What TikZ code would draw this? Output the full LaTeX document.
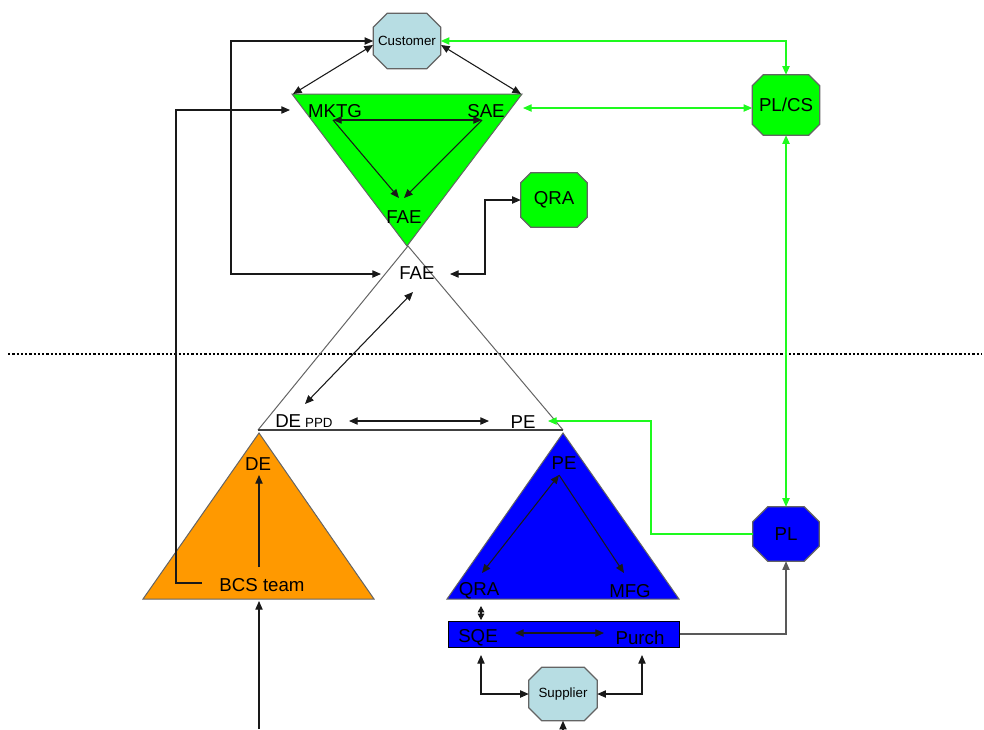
\documentclass[tikz,border=0pt]{standalone}
\usepackage{fontspec}
\setmainfont{Liberation Sans}
\usetikzlibrary{arrows.meta,backgrounds}

\definecolor{custblue}{RGB}{183,221,227}
\definecolor{vgreen}{RGB}{0,255,0}
\definecolor{vblue}{RGB}{0,0,255}
\definecolor{vorange}{RGB}{255,153,0}
\definecolor{rimgray}{RGB}{100,100,100}
\definecolor{linkgreen}{RGB}{30,250,30}

% octagon outline around node #1, filled with #2, corners cut by #3
\newcommand\octoutline[3]{%
  \begin{scope}[on background layer]
    \filldraw[fill=#2, draw=rimgray, line width=0.9pt]
      ([xshift=#3]#1.north west) -- ([xshift=-#3]#1.north east)
      -- ([yshift=-#3]#1.north east) -- ([yshift=#3]#1.south east)
      -- ([xshift=-#3]#1.south east) -- ([xshift=#3]#1.south west)
      -- ([yshift=#3]#1.south west) -- ([yshift=-#3]#1.north west) -- cycle;
  \end{scope}}

\tikzset{
  lblbig/.style={font=\fontsize{14}{16}\selectfont, inner sep=0pt},
  lblsmall/.style={font=\fontsize{10}{12}\selectfont, inner sep=0pt},
  octbox/.style 2 args={minimum width=#1, minimum height=#2, inner sep=0pt},
  link/.style={draw=black!90, line width=0.8pt},
  glink/.style={draw=linkgreen, line width=0.85pt},
  shapeedge/.style={draw=rimgray, line width=0.75pt},
}

\begin{document}
\begin{tikzpicture}[x=0.75pt, y=-0.75pt, >={Triangle[length=6.5pt,width=5.5pt]}]
\useasboundingbox (0,0) rectangle (984,729);

% dotted separation line
\draw[line width=1.7pt, dash pattern=on 1.7pt off 1.5pt] (8,354) -- (982,354);

% triangles
\draw[shapeedge] (258,430) -- (408,246) -- (563,430);
\draw[draw=black!75, line width=0.9pt] (258,430) -- (563,430);
\filldraw[fill=vgreen, shapeedge] (292,94) -- (522,94) -- (407,246) -- cycle;
\filldraw[fill=vorange, shapeedge] (143,599) -- (374,599) -- (259,433) -- cycle;
\filldraw[fill=vblue, shapeedge] (447,599) -- (679,599) -- (563,433) -- cycle;

% octagons
\node[octbox={50.25pt}{41.25pt}, lblsmall] (cust) at (407,41) {Customer};
\octoutline{cust}{custblue}{10.5pt}
\node[octbox={50.25pt}{45pt}, lblbig] (plcs) at (786,105) {PL/CS};
\octoutline{plcs}{vgreen}{8.25pt}
\node[octbox={49.5pt}{40.5pt}, lblbig] (qra) at (554,200) {QRA};
\octoutline{qra}{vgreen}{7.5pt}
\node[octbox={49.5pt}{40.5pt}, lblbig] (pl) at (786,534) {PL};
\octoutline{pl}{vblue}{11.25pt}
\node[octbox={51pt}{39.75pt}, lblsmall] (supp) at (563,694) {Supplier};
\octoutline{supp}{custblue}{9.75pt}

% SQE / Purch bar
\node[draw=black, fill=vblue, line width=0.75pt, minimum width=173.25pt, minimum height=19.5pt, inner sep=0pt] (bar) at (563.5,634) {};

% labels
\node[lblbig] (mktg) at (335,111) {MKTG};
\node[lblbig] (sae) at (486,111) {SAE};
\node[lblbig] (faeg) at (404,217) {FAE};
\node[lblbig] (faew) at (417,273) {FAE};
\node[lblbig, anchor=base west] (de) at (275,427) {DE\hspace{3pt}{\fontsize{10}{12}\selectfont PPD}};
\node[lblbig] (pe) at (523,422) {PE};
\node[lblbig] (det) at (258,464) {DE};
\node[lblbig] (bcs) at (262,585) {BCS team};
\node[lblbig] (pet) at (564,463) {PE};
\node[lblbig] (qrat) at (479,591) {QRA};
\node[lblbig] (mfg) at (630,591) {MFG};
\node[lblbig] (sqe) at (478,638) {SQE};
\node[lblbig] (purch) at (640,638) {Purch};

% connector end points
\coordinate (custl) at (373,45);
\coordinate (custr) at (441,45);
\coordinate (gl) at (293,94);
\coordinate (gr) at (521,94);
\coordinate (mk) at (333,120);
\coordinate (sa) at (482,120);
\coordinate (fg1) at (399,198);
\coordinate (fg2) at (404,198);
\coordinate (loopx) at (231,41);
\coordinate (fw) at (381,274);
\coordinate (bcsl) at (202,583);
\coordinate (mkl) at (290,110);
\coordinate (qrax) at (485,200);
\coordinate (fe) at (450,274);
\coordinate (fs) at (413,292);
\coordinate (dn) at (305,404);
\coordinate (dr) at (349,421);
\coordinate (pl1) at (489,421);
\coordinate (pegr) at (548,421);
\coordinate (saeg) at (523,108);
\coordinate (bcsu) at (259,567);
\coordinate (deb) at (259,475);
\coordinate (bot) at (259,729);
\coordinate (ob) at (259,601);
\coordinate (pto) at (559,475);
\coordinate (qrab) at (482,573);
\coordinate (mfgt) at (624,573);
\coordinate (dtop) at (481,606);
\coordinate (dbot) at (481,620);
\coordinate (sqer) at (515,633);
\coordinate (purl) at (604,633);
\coordinate (sqeb) at (481,655);
\coordinate (purb) at (642,655);
\coordinate (sbot) at (563,729);

% black connectors
\draw[link,<->] (custl) -- (gl);
\draw[link,<->] (custr) -- (gr);
\draw[link,<->] (mk) -- (sa);
\draw[link,->] (mk) -- (fg1);
\draw[link,->] (sa) -- (fg2);
\draw[link,<->] (cust.west) -- (loopx) |- (fw);
\draw[link,->] (bcsl) -- (176,583) |- (mkl);
\draw[link,<->] (qra.west) -- (qrax) |- (fe);
\draw[link,<->] (fs) -- (dn);
\draw[link,<->] (dr) -- (pl1);
\draw[link,->] (bcsu) -- (deb);
\draw[link,->] (bot) -- (ob);
\draw[link,<->] (pto) -- (qrab);
\draw[link,->] (pto) -- (mfgt);
\draw[link,{Triangle[length=4.8pt,width=5pt]}-{Triangle[length=4.8pt,width=5pt]}] (dtop) -- (dbot);
\draw[link,<->] (sqer) -- (purl);
\draw[link,<->] (sqeb) |- (supp.west);
\draw[link,<->] (purb) |- (supp.east);
\draw[link,draw=black!65,->] (bar.east) -| (pl.south);
\draw[link,->] (sbot) -- (supp.south);

% green connectors
\draw[glink,<->] (cust.east) -| (plcs.north);
\draw[glink,<->] (saeg) -- (saeg -| plcs.west);
\draw[glink,<->] (plcs.south) -- (pl.north);
\draw[glink,->] (pl.west) -- (651,534) |- (pegr);
\end{tikzpicture}
\end{document}
